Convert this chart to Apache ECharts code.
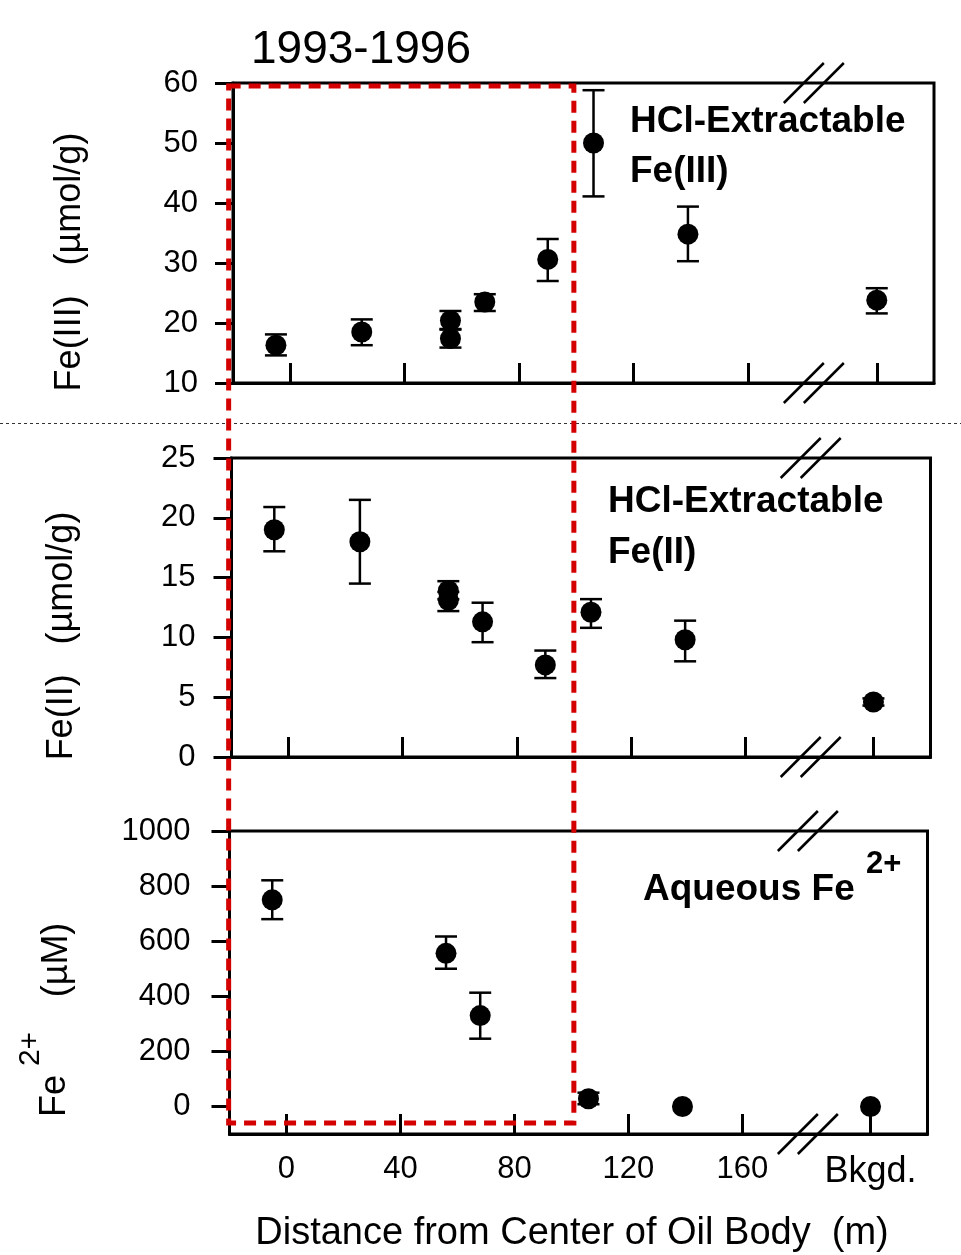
<!DOCTYPE html>
<html>
<head>
<meta charset="utf-8">
<script src="https://cdn.jsdelivr.net/npm/echarts@6/dist/echarts.min.js"></script>
<style>
  html, body { margin: 0; padding: 0; background: #ffffff; }
  #chart { width: 961px; height: 1255px; }
</style>
</head>
<body>
<div id="chart"></div>
<script>
// Distance from the oil-body center (m); the background well sits past the axis break
const BKGD_X = 205;
const BREAK_X = 183;
const distance = [-5, 25, 56, 56, 68, 90, 106, 139, BKGD_X];

// HCl-extractable Fe(III), µmol/g (mean, lower and upper error bar)
const fe3Mean = [16.3, 18.5, 20.4, 17.4, 23.5, 30.6, 50.0, 34.8, 23.8];
const fe3Low  = [14.6, 16.3, 19.0, 15.9, 22.0, 27.0, 41.1, 30.3, 21.6];
const fe3High = [18.1, 20.6, 22.0, 18.9, 24.8, 34.0, 58.8, 39.4, 25.8];

// HCl-extractable Fe(II), µmol/g
const fe2Mean = [19.0, 18.0, 13.9, 13.1, 11.3, 7.7, 12.1, 9.8, 4.6];
const fe2Low  = [17.2, 14.5, 13.2, 12.2, 9.6, 6.6, 10.8, 8.0, 4.3];
const fe2High = [20.9, 21.5, 14.7, 13.8, 12.9, 8.9, 13.2, 11.4, 4.9];

// Aqueous Fe2+, µM
const aqDistance = [-5, 56, 68, 106, 139, BKGD_X];
const aqMean = [750, 556, 330, 28, 0, 0];
const aqLow  = [680, 500, 246, 8, 0, 0];
const aqHigh = [821, 617, 413, 50, 0, 0];

// Axis ticks and labels
const xTickValues = [0, 40, 80, 120, 160, BKGD_X];
const xTickLabels = ['0', '40', '80', '120', '160', 'Bkgd.'];
const fe3Ticks = [10, 20, 30, 40, 50, 60];
const fe2Ticks = [0, 5, 10, 15, 20, 25];
const aqTicks = [0, 200, 400, 600, 800, 1000];

// 1993-1996 sampling window (distance range, and vertical extent in panel units)
const windowX = [-21, 100];
const windowTopFe3 = 59.5;
const windowBottomAq = -60;

const INK = '#000000';
const RED = '#d40000';
const FONT = "'Liberation Sans', Arial, sans-serif";
const LW = 3;

const grids = [
  { left: 233,   top: 83,  width: 701, height: 300 },
  { left: 231.5, top: 458, width: 699, height: 299 },
  { left: 229.5, top: 831, width: 698, height: 303 }
];

function xAxisFor(gridIndex, showLabels) {
  return {
    type: 'value', gridIndex: gridIndex, min: -20, max: 225,
    axisLine: { show: true, onZero: false, lineStyle: { color: INK, width: LW } },
    axisTick: { show: true, inside: true, length: 20, customValues: xTickValues,
                lineStyle: { color: INK, width: LW } },
    axisLabel: {
      show: showLabels, customValues: xTickValues, margin: 20,
      color: INK, fontFamily: FONT, fontSize: 31,
      formatter: function (v) {
        const s = xTickLabels[xTickValues.indexOf(v)];
        return v === BKGD_X ? '{bk|' + s + '}' : s;
      },
      rich: { bk: { fontFamily: FONT, fontSize: 36, color: INK } }
    },
    splitLine: { show: false }
  };
}

function yAxisFor(gridIndex, min, max, ticks, margin) {
  return {
    type: 'value', gridIndex: gridIndex, min: min, max: max,
    axisLine: { show: true, onZero: false, lineStyle: { color: INK, width: LW } },
    axisTick: { show: true, inside: false, length: 18, customValues: ticks,
                lineStyle: { color: INK, width: LW } },
    axisLabel: { customValues: ticks, margin: margin, color: INK,
                 fontFamily: FONT, fontSize: 31,
                 formatter: function (v) { return String(v); } },
    splitLine: { show: false }
  };
}

function errorBarItem(params, api) {
  const x = api.value(0);
  const lo = api.value(1), hi = api.value(2);
  if (hi - lo <= 0) return { type: 'group', children: [] };
  const p1 = api.coord([x, lo]);
  const p2 = api.coord([x, hi]);
  const half = 11;
  const style = { stroke: INK, lineWidth: 2.5 };
  return {
    type: 'group',
    children: [
      { type: 'line', shape: { x1: p1[0], y1: p1[1], x2: p2[0], y2: p2[1] }, style: style },
      { type: 'line', shape: { x1: p1[0] - half, y1: p1[1], x2: p1[0] + half, y2: p1[1] }, style: style },
      { type: 'line', shape: { x1: p2[0] - half, y1: p2[1], x2: p2[0] + half, y2: p2[1] }, style: style }
    ]
  };
}

function panelSeries(idx, xs, mean, low, high) {
  return [
    {
      type: 'custom', xAxisIndex: idx, yAxisIndex: idx,
      renderItem: errorBarItem, clip: false, z: 3,
      encode: { x: 0, y: [1, 2] },
      data: xs.map(function (d, i) { return [d, low[i], high[i]]; })
    },
    {
      type: 'scatter', xAxisIndex: idx, yAxisIndex: idx,
      symbol: 'circle', symbolSize: 21, z: 4,
      itemStyle: { color: INK, opacity: 1 },
      emphasis: { disabled: true },
      data: xs.map(function (d, i) { return [d, mean[i]]; })
    }
  ];
}

const chart = echarts.init(document.getElementById('chart'), null, { renderer: 'canvas' });

chart.setOption({
  backgroundColor: '#ffffff',
  animation: false,
  grid: grids.map(function (g) {
    return Object.assign({ show: true, borderColor: INK, borderWidth: LW, backgroundColor: 'transparent' }, g);
  }),
  xAxis: [xAxisFor(0, false), xAxisFor(1, false), xAxisFor(2, true)],
  yAxis: [
    yAxisFor(0, 10, 60, fe3Ticks, 35),
    yAxisFor(1, 0, 25, fe2Ticks, 36),
    yAxisFor(2, -100, 1000, aqTicks, 39)
  ],
  series: [].concat(
    panelSeries(0, distance, fe3Mean, fe3Low, fe3High),
    panelSeries(1, distance, fe2Mean, fe2Low, fe2High),
    panelSeries(2, aqDistance, aqMean, aqLow, aqHigh)
  )
});

function px(gridIndex, x, y) {
  return chart.convertToPixel({ xAxisIndex: gridIndex, yAxisIndex: gridIndex }, [x, y]);
}

function text(str, x, y, size, opts) {
  opts = opts || {};
  return {
    type: 'text', x: x, y: y, rotation: opts.rotation || 0, z: 50,
    style: {
      text: str, fill: INK,
      font: (opts.bold ? 'bold ' : '') + size + 'px ' + FONT,
      align: opts.align || 'left', verticalAlign: 'middle',
      textAlign: opts.align || 'left', textVerticalAlign: 'middle'
    }
  };
}

// "//" axis-break marks on the top and bottom frame edges of each panel
function breakMarks(gridIndex, yVal) {
  const c = px(gridIndex, BREAK_X, yVal);
  const style = { stroke: INK, lineWidth: 2.5 };
  return [-10, 10].map(function (dx) {
    return {
      type: 'line', z: 40,
      shape: { x1: c[0] + dx - 20, y1: c[1] + 20, x2: c[0] + dx + 20, y2: c[1] - 20 },
      style: style
    };
  });
}

const graphics = [];
graphics.push.apply(graphics, breakMarks(0, 60));
graphics.push.apply(graphics, breakMarks(0, 10));
graphics.push.apply(graphics, breakMarks(1, 25));
graphics.push.apply(graphics, breakMarks(1, 0));
graphics.push.apply(graphics, breakMarks(2, 1000));
graphics.push.apply(graphics, breakMarks(2, -100));

// dashed frame around the 1993-1996 sampling window
const winTL = [px(1, windowX[0], 0)[0], px(0, 0, windowTopFe3)[1]];
const winBR = [px(1, windowX[1], 0)[0], px(2, 0, windowBottomAq)[1]];
graphics.push({
  type: 'rect', z: 60,
  shape: { x: winTL[0], y: winTL[1], width: winBR[0] - winTL[0], height: winBR[1] - winTL[1] },
  style: { fill: 'none', stroke: RED, lineWidth: 5, lineDash: [12, 8] }
});

// thin dotted separator between the top two panels
graphics.push({
  type: 'line', z: 5,
  shape: { x1: 0, y1: 423.5, x2: 961, y2: 423.5 },
  style: { stroke: '#333333', lineWidth: 1, lineDash: [3, 3] }
});

// headings and panel annotations
graphics.push(text('1993-1996', 361, 50, 46, { align: 'center' }));
graphics.push(text('HCl-Extractable', 630, 122, 37, { bold: true }));
graphics.push(text('Fe(III)', 630, 172, 37, { bold: true }));
graphics.push(text('HCl-Extractable', 608, 502, 37, { bold: true }));
graphics.push(text('Fe(II)', 608, 553, 37, { bold: true }));
graphics.push(text('Aqueous Fe', 643, 890, 37, { bold: true }));
graphics.push(text('2+', 866, 864, 31, { bold: true }));

// rotated y-axis titles
const R = Math.PI / 2;
graphics.push(text('Fe(III)   (µmol/g)', 70, 262, 36, { align: 'center', rotation: R }));
graphics.push(text('Fe(II)   (µmol/g)', 62, 636, 36, { align: 'center', rotation: R }));
graphics.push(text('Fe', 55, 1096, 36, { align: 'center', rotation: R }));
graphics.push(text('2+', 31, 1049, 30, { align: 'center', rotation: R }));
graphics.push(text('(µM)', 57, 960, 36, { align: 'center', rotation: R }));

// x-axis title
graphics.push(text('Distance from Center of Oil Body  (m)', 572, 1234, 38, { align: 'center' }));

chart.setOption({ graphic: graphics });
</script>
</body>
</html>
